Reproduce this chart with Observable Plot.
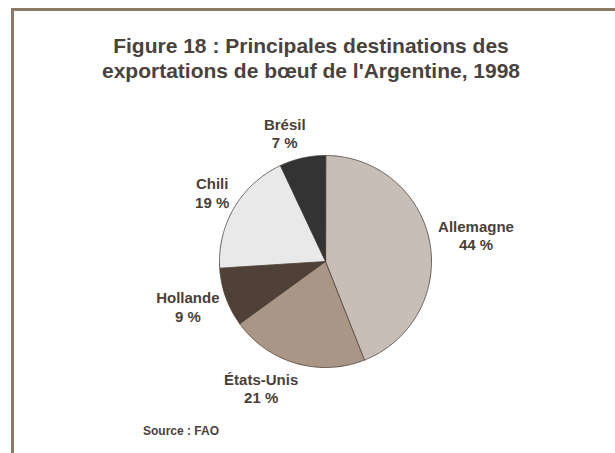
<!DOCTYPE html>
<html>
<head>
<meta charset="utf-8">
<script src="https://cdn.jsdelivr.net/npm/d3@7"></script>
<script src="https://cdn.jsdelivr.net/npm/@observablehq/plot@0.6"></script>
<style>
  html, body { margin: 0; padding: 0; background: #fff; overflow: hidden; }
  body { width: 615px; height: 453px; position: relative; font-family: "Liberation Sans", Arial, Helvetica, sans-serif; }
  .frame { position: absolute; left: 11px; top: 8px; width: 620px; height: 460px; border-left: 3px solid #8c7a69; border-top: 3px solid #8c7a69; }
  .title { position: absolute; left: 0; top: 33px; width: 622px; text-align: center; font-weight: bold; font-size: 21px; line-height: 25px; color: #4a423d; white-space: nowrap; }
  #chart { position: absolute; left: 0; top: 115px; }
  .source { position: absolute; left: 143px; top: 424px; font-weight: bold; font-size: 12px; line-height: 14px; color: #4a423d; }
</style>
</head>
<body>
<div class="frame"></div>
<div class="title">Figure 18 : Principales destinations des<br>exportations de bœuf de l'Argentine, 1998</div>
<div id="chart"></div>
<div class="source">Source : FAO</div>
<script>
const countries = ["Allemagne", "États-Unis", "Hollande", "Chili", "Brésil"];
const shares = [44, 21, 9, 19, 7];
const sliceColors = ["#c6beb7", "#a99686", "#4f4137", "#e9e9e9", "#333333"];

const rows = countries.map((c, i) => ({country: c, share: shares[i], color: sliceColors[i]}));
const arcs = d3.pie().sort(null).value(d => d.share)(rows);

const poly = [];
arcs.forEach(a => {
  const k = a.data.country;
  poly.push({k, color: a.data.color, x: 0, y: 0});
  const n = Math.max(2, Math.ceil((a.endAngle - a.startAngle) / 0.01));
  for (let j = 0; j <= n; j++) {
    const t = a.startAngle + (a.endAngle - a.startAngle) * j / n;
    poly.push({k, color: a.data.color, x: Math.sin(t), y: Math.cos(t)});
  }
});

// label placement: on a ring outside the pie at each slice's mid-angle,
// with small pixel nudges mimicking the original's "best fit" placement
const labelR = 1.33;
const labelNudge = {"Allemagne": [12, 0], "États-Unis": [-25, -9], "Hollande": [-5, -3], "Chili": [8, 3], "Brésil": [-10, 9]};
const labels = arcs.map(a => {
  const m = (a.startAngle + a.endAngle) / 2;
  const [dx, dy] = labelNudge[a.data.country] || [0, 0];
  return {x: labelR * Math.sin(m), y: labelR * Math.cos(m), dx, dy, text: a.data.country + "\n" + a.data.share + " %"};
});

const chart = Plot.plot({
  width: 615,
  height: 338,
  marginLeft: 219,
  marginRight: 184,
  marginTop: 40,
  marginBottom: 86,
  x: {domain: [-1, 1], axis: null},
  y: {domain: [-1, 1], axis: null},
  color: {type: "identity"},
  style: {background: "transparent", overflow: "visible"},
  marks: [
    Plot.line(poly, {x: "x", y: "y", z: "k", fill: "color", stroke: "#4a3c32", strokeWidth: 0.8, curve: "linear-closed"}),
    ...labels.map(l => Plot.text([l], {x: "x", y: "y", text: "text", dx: l.dx, dy: l.dy, fill: "#4a3f38", fontSize: 15, fontWeight: "bold", lineHeight: 1.25, fontFamily: "Liberation Sans, Arial, sans-serif"}))
  ]
});
document.getElementById("chart").appendChild(chart);
</script>
</body>
</html>
